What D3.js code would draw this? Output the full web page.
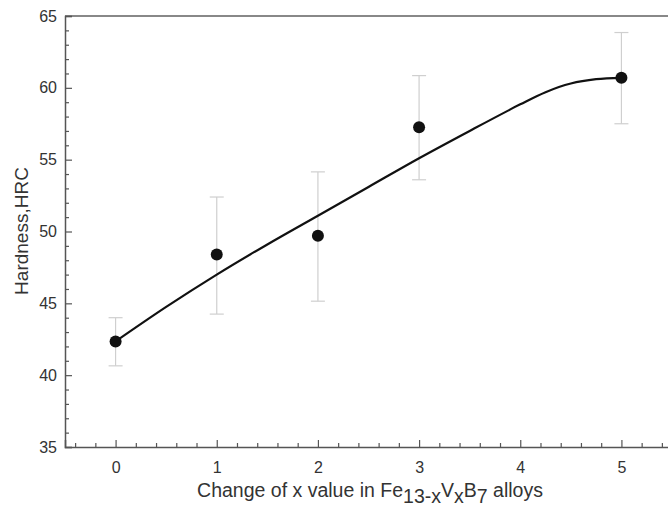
<!DOCTYPE html>
<html>
<head>
<meta charset="utf-8">
<script src="https://cdn.jsdelivr.net/npm/d3@7/dist/d3.min.js"></script>
<style>
  body { margin: 0; background: #fff; }
  svg { display: block; font-family: "Liberation Sans", Arial, sans-serif; }
</style>
</head>
<body>
<svg id="chart" width="668" height="507"></svg>
<script>
// Measured data points
const xValues = [0, 1, 2, 3, 5];
const hardness = [42.35, 48.4, 49.7, 57.25, 60.7];
const errUpper = [44.0, 52.4, 54.15, 60.85, 63.85];
const errLower = [40.65, 44.25, 45.15, 53.6, 57.5];

// Fitted curve
const curveX = [0, 0.5, 1, 1.5, 2, 2.5, 3, 3.5, 4, 4.25, 4.5, 4.75, 5];
const curveY = [42.35, 44.75, 47.0, 49.1, 51.1, 53.1, 55.1, 57.0, 58.85, 59.7, 60.3, 60.6, 60.7];

const xTicks = [0, 1, 2, 3, 4, 5];
const yTicks = [35, 40, 45, 50, 55, 60, 65];

(function () {
const svg = d3.select("#chart");
const mLeft = 65, mTop = 16, mBottom = 447;
const x = d3.scaleLinear().domain([-0.5, 5.5]).range([mLeft, mLeft + 607]);
const y = d3.scaleLinear().domain([35, 65]).range([mBottom, mTop]);

const axisColor = "#555";
const textColor = "#333";

// top frame line
svg.append("line").attr("x1", mLeft).attr("x2", 668).attr("y1", mTop).attr("y2", mTop)
  .attr("stroke", "#888").attr("stroke-width", 2);

// minor ticks
const xMinor = d3.range(-0.4, 5.5, 0.2).map(v => +v.toFixed(1)).filter(v => Math.abs(v - Math.round(v)) > 1e-6);
const yMinor = d3.range(36, 65, 1).filter(v => v % 5 !== 0);

const gx = svg.append("g").attr("transform", `translate(0,${mBottom})`);
gx.call(d3.axisBottom(x).tickValues(xTicks).tickSize(-7).tickPadding(15).tickFormat(d3.format("d")));
gx.append("g").call(d3.axisBottom(x).tickValues(xMinor).tickSize(-4).tickFormat(""))
  .select(".domain").remove();

const gy = svg.append("g").attr("transform", `translate(${mLeft},0)`);
gy.call(d3.axisLeft(y).tickValues(yTicks).tickSize(-7).tickPadding(8).tickFormat(d3.format("d")));
gy.append("g").call(d3.axisLeft(y).tickValues(yMinor).tickSize(-4).tickFormat(""))
  .select(".domain").remove();

svg.selectAll(".domain").attr("stroke", axisColor).attr("stroke-width", 1.5);
svg.selectAll(".tick line").attr("stroke", axisColor).attr("stroke-width", 1.2);
svg.selectAll(".tick text").attr("fill", textColor).attr("font-size", 16)
  .attr("font-family", "Liberation Sans, Arial, sans-serif");

// error bars
const eb = svg.append("g").attr("stroke", "#cfcfcf").attr("stroke-width", 1.2);
xValues.forEach((xv, i) => {
  eb.append("line").attr("x1", x(xv)).attr("x2", x(xv)).attr("y1", y(errUpper[i])).attr("y2", y(errLower[i]));
  [errUpper[i], errLower[i]].forEach(v => {
    eb.append("line").attr("x1", x(xv) - 7).attr("x2", x(xv) + 7).attr("y1", y(v)).attr("y2", y(v));
  });
});

// fitted curve
const line = d3.line().x(d => x(d[0])).y(d => y(d[1])).curve(d3.curveCatmullRom.alpha(0.5));
svg.append("path").datum(curveX.map((v, i) => [v, curveY[i]]))
  .attr("d", line).attr("fill", "none").attr("stroke", "#111").attr("stroke-width", 2.2);

// points
svg.append("g").selectAll("circle").data(xValues).join("circle")
  .attr("cx", d => x(d)).attr("cy", (d, i) => y(hardness[i])).attr("r", 6).attr("fill", "#111");

// axis titles
svg.append("text").attr("transform", "translate(28,231) rotate(-90)")
  .attr("text-anchor", "middle").attr("font-size", 19).attr("fill", textColor)
  .text("Hardness,HRC");

const xt = svg.append("text").attr("x", 370).attr("y", 497).attr("text-anchor", "middle")
  .attr("font-size", 19.5).attr("fill", textColor);
xt.append("tspan").text("Change of x value in Fe");
xt.append("tspan").attr("dy", 6).text("13-x");
xt.append("tspan").attr("dy", -6).text("V");
xt.append("tspan").attr("dy", 6).text("x");
xt.append("tspan").attr("dy", -6).text("B");
xt.append("tspan").attr("dy", 6).text("7");
xt.append("tspan").attr("dy", -6).text(" alloys");
})();
</script>
</body>
</html>
